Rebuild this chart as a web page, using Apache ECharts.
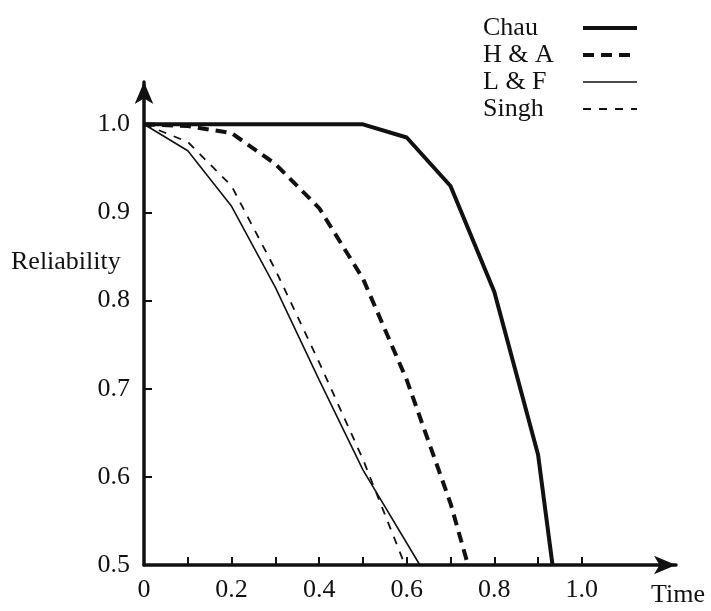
<!DOCTYPE html>
<html>
<head>
<meta charset="utf-8">
<script src="https://cdn.jsdelivr.net/npm/echarts@6/dist/echarts.min.js"></script>
<style>
  html, body { margin: 0; padding: 0; background: #fff; }
  #chart { width: 711px; height: 611px; }
</style>
</head>
<body>
<div id="chart"></div>
<script>
const FONT = "'Liberation Serif', 'DejaVu Serif', serif";
const INK = '#111';

// curves: time, reliability
const chauTime = [0, 0.1, 0.2, 0.3, 0.4, 0.5, 0.6, 0.7, 0.8, 0.9, 0.933];
const chauRel = [1.0, 1.0, 1.0, 1.0, 1.0, 1.0, 0.985, 0.93, 0.81, 0.625, 0.5];
const haTime = [0, 0.1, 0.2, 0.3, 0.4, 0.5, 0.6, 0.7, 0.74];
const haRel = [1.0, 0.998, 0.99, 0.955, 0.905, 0.825, 0.71, 0.57, 0.5];
const lfTime = [0, 0.1, 0.2, 0.3, 0.4, 0.5, 0.63];
const lfRel = [1.0, 0.97, 0.907, 0.815, 0.71, 0.608, 0.5];
const singhTime = [0, 0.1, 0.2, 0.3, 0.4, 0.5, 0.596];
const singhRel = [1.0, 0.98, 0.93, 0.835, 0.73, 0.62, 0.5];

const xLabels = [0, 0.2, 0.4, 0.6, 0.8, 1.0];
const xTicks = [0.1, 0.2, 0.3, 0.4, 0.5, 0.6, 0.7, 0.8, 0.9, 1.0];
const yLabels = [0.5, 0.6, 0.7, 0.8, 0.9, 1.0];
const yTicks = [0.6, 0.7, 0.8, 0.9, 1.0];

const zip = (xs, ys) => xs.map((x, i) => [x, ys[i]]);

const styles = {
  'Chau': { color: INK, width: 4, type: 'solid' },
  'H & A': { color: INK, width: 4, type: [11, 7] },
  'L & F': { color: INK, width: 1.6, type: 'solid' },
  'Singh': { color: INK, width: 1.8, type: [8, 8] }
};

const chart = echarts.init(document.getElementById('chart'));

chart.setOption({
  backgroundColor: '#fff',
  animation: false,
  textStyle: { fontFamily: FONT, color: INK },
  grid: { left: 144, right: 35, top: 82, bottom: 46 },
  legend: {
    orient: 'vertical',
    left: 478,
    top: 10,
    align: 'right',
    itemWidth: 54,
    itemHeight: 14,
    itemGap: 1,
    selectedMode: false,
    itemStyle: { opacity: 0 },
    formatter: name => '{n|' + name + '}',
    textStyle: {
      fontFamily: FONT, fontSize: 26, color: INK,
      rich: { n: { width: 95, align: 'left', fontFamily: FONT, fontSize: 26, lineHeight: 25, color: INK } }
    },
    data: Object.keys(styles).map(name => ({ name: name, lineStyle: styles[name] }))
  },
  xAxis: {
    type: 'value',
    min: 0,
    max: 1.215,
    splitLine: { show: false },
    axisLine: {
      onZero: false,
      lineStyle: { color: INK, width: 3.5 },
      symbol: ['none', 'arrow'],
      symbolSize: [14, 22]
    },
    axisTick: { inside: true, length: 8, lineStyle: { color: INK, width: 2 }, customValues: xTicks },
    axisLabel: {
      margin: 12,
      fontFamily: FONT, fontSize: 26, color: INK,
      customValues: xLabels,
      formatter: v => (v === 0 ? '0' : v.toFixed(1))
    }
  },
  yAxis: {
    type: 'value',
    min: 0.5,
    max: 1.048,
    splitLine: { show: false },
    axisLine: {
      onZero: false,
      lineStyle: { color: INK, width: 3.5 },
      symbol: ['none', 'arrow'],
      symbolSize: [14, 22]
    },
    axisTick: { inside: true, length: 8, lineStyle: { color: INK, width: 2 }, customValues: yTicks },
    axisLabel: {
      margin: 14,
      fontFamily: FONT, fontSize: 26, color: INK,
      customValues: yLabels,
      formatter: v => v.toFixed(1)
    }
  },
  graphic: [
    { type: 'text', left: 11, top: 249, style: { text: 'Reliability', font: '26px ' + FONT, fill: INK } },
    { type: 'text', left: 651, top: 582, style: { text: 'Time', font: '26px ' + FONT, fill: INK } }
  ],
  series: [
    { name: 'Chau', type: 'line', symbol: 'none', data: zip(chauTime, chauRel), lineStyle: styles['Chau'], itemStyle: { color: INK } },
    { name: 'H & A', type: 'line', symbol: 'none', data: zip(haTime, haRel), lineStyle: styles['H & A'], itemStyle: { color: INK } },
    { name: 'L & F', type: 'line', symbol: 'none', data: zip(lfTime, lfRel), lineStyle: styles['L & F'], itemStyle: { color: INK } },
    { name: 'Singh', type: 'line', symbol: 'none', data: zip(singhTime, singhRel), lineStyle: styles['Singh'], itemStyle: { color: INK } }
  ]
});
</script>
</body>
</html>
